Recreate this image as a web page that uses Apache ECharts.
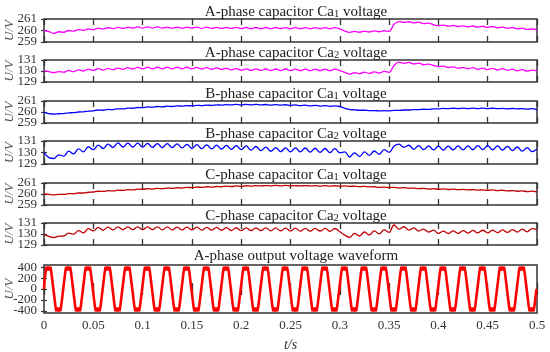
<!DOCTYPE html>
<html><head><meta charset="utf-8">
<script src="https://cdn.jsdelivr.net/npm/echarts@6/dist/echarts.min.js"></script>
<style>html,body{margin:0;padding:0;background:#fff}#c{width:550px;height:352px}</style>
</head><body><div id="c"></div>
<script>
// ---- data ----
const dtCap = 0.005;   // sample spacing of capacitor traces (s)
const dtOut = 0.001;   // sample spacing of output voltage trace (s)
const xTicks = [0,0.05,0.1,0.15,0.2,0.25,0.3,0.35,0.4,0.45,0.5];
const xTickLabels = ['0','0.05','0.1','0.15','0.2','0.25','0.3','0.35','0.4','0.45','0.5'];
const ticksCa1 = [259,260,261];
const ticksCa2 = [129,130,131];
const ticksOut = [-400,-200,0,200,400];
const titles = [
  'A-phase capacitor Ca{s|1} voltage',
  'A-phase capacitor Ca{s|2} voltage',
  'B-phase capacitor Ca{s|1} voltage',
  'B-phase capacitor Ca{s|2} voltage',
  'C-phase capacitor Ca{s|1} voltage',
  'C-phase capacitor Ca{s|2} voltage',
  'A-phase output voltage waveform'
];
const vaCa1 = [
260.00,259.91,259.75,259.89,259.85,260.00,259.94,260.08,260.01,260.14,
260.07,260.20,260.12,260.24,260.16,260.27,260.18,260.29,260.20,260.31,
260.21,260.31,260.21,260.31,260.21,260.30,260.20,260.30,260.20,260.30,
260.20,260.29,260.19,260.29,260.19,260.28,260.18,260.28,260.18,260.27,
260.17,260.26,260.16,260.26,260.16,260.26,260.16,260.26,260.16,260.25,
260.15,260.25,260.15,260.25,260.15,260.25,260.15,260.25,260.15,260.25,
260.15,259.95,259.84,259.92,259.85,259.94,259.87,259.96,259.89,259.98,
259.92,260.55,260.78,260.70,260.76,260.66,260.72,260.60,260.64,260.50,
260.42,260.47,260.38,260.44,260.35,260.41,260.32,260.39,260.30,260.37,
260.28,260.34,260.24,260.30,260.20,260.26,260.15,260.20,260.09,260.13,
260.05];
const vaCa2 = [
130.03,129.94,129.86,129.95,129.89,130.05,129.94,130.11,130.00,130.17,
130.05,130.21,130.08,130.24,130.12,130.27,130.15,130.30,130.18,130.33,
130.20,130.34,130.20,130.34,130.20,130.34,130.20,130.34,130.20,130.34,
130.20,130.33,130.18,130.30,130.16,130.28,130.14,130.25,130.11,130.22,
130.07,130.19,130.05,130.19,130.05,130.18,130.04,130.18,130.04,130.18,
130.04,130.17,130.03,130.17,130.03,130.17,130.03,130.17,130.03,130.17,
130.03,129.88,129.72,129.86,129.76,129.90,129.78,129.92,129.82,129.96,
129.88,130.50,130.80,130.70,130.78,130.64,130.72,130.57,130.62,130.50,
130.40,130.44,130.32,130.38,130.25,130.33,130.20,130.30,130.16,130.27,
130.13,130.24,130.10,130.21,130.06,130.17,130.02,130.12,129.98,130.08,
130.00];
const vbCa1 = [
259.97,259.86,259.81,259.84,259.86,259.92,259.94,260.00,260.02,260.08,
260.10,260.18,260.16,260.23,260.22,260.29,260.28,260.35,260.34,260.41,
260.40,260.46,260.44,260.50,260.47,260.53,260.50,260.56,260.53,260.58,
260.56,260.61,260.58,260.63,260.60,260.65,260.62,260.67,260.64,260.69,
260.65,260.69,260.65,260.69,260.64,260.68,260.63,260.67,260.62,260.66,
260.60,260.64,260.58,260.62,260.56,260.60,260.54,260.58,260.52,260.56,
260.50,260.34,260.22,260.20,260.16,260.16,260.12,260.13,260.10,260.12,
260.10,260.14,260.14,260.18,260.18,260.22,260.21,260.25,260.24,260.28,
260.28,260.33,260.30,260.34,260.31,260.35,260.31,260.35,260.31,260.35,
260.31,260.34,260.30,260.33,260.29,260.32,260.28,260.31,260.27,260.30,
260.20];
const vbCa2 = [
129.98,129.55,129.48,129.80,129.68,130.12,129.88,130.31,130.06,130.50,
130.25,130.64,130.35,130.73,130.44,130.83,130.48,130.82,130.47,130.81,
130.46,130.79,130.44,130.78,130.43,130.77,130.42,130.75,130.40,130.70,
130.35,130.68,130.33,130.66,130.31,130.64,130.29,130.62,130.27,130.60,
130.25,130.57,130.21,130.52,130.16,130.47,130.11,130.42,130.07,130.41,
130.06,130.40,130.05,130.39,130.03,130.37,130.01,130.35,129.99,130.33,
129.98,130.06,129.61,129.97,129.65,130.05,129.75,130.13,129.85,130.25,
130.01,130.55,130.72,130.45,130.63,130.28,130.60,130.25,130.57,130.22,
130.55,130.21,130.56,130.22,130.57,130.23,130.58,130.24,130.59,130.25,
130.59,130.23,130.57,130.21,130.53,130.17,130.48,130.12,130.43,130.08,
130.30];
const vcCa1 = [
260.00,259.97,259.92,259.96,259.96,260.03,260.02,260.09,260.09,260.16,
260.18,260.25,260.23,260.30,260.28,260.35,260.33,260.39,260.37,260.44,
260.43,260.48,260.45,260.51,260.48,260.54,260.51,260.57,260.54,260.60,
260.58,260.63,260.60,260.66,260.63,260.68,260.66,260.71,260.68,260.73,
260.70,260.75,260.72,260.76,260.73,260.77,260.74,260.78,260.74,260.78,
260.74,260.77,260.73,260.77,260.73,260.76,260.72,260.76,260.71,260.75,
260.71,260.74,260.69,260.72,260.67,260.69,260.64,260.66,260.61,260.63,
260.58,260.61,260.55,260.58,260.52,260.54,260.49,260.51,260.45,260.48,
260.43,260.46,260.41,260.44,260.39,260.42,260.37,260.40,260.35,260.38,
260.34,260.37,260.31,260.34,260.28,260.31,260.25,260.28,260.22,260.26,
260.18];
const vcCa2 = [
129.94,129.78,129.68,129.80,129.82,130.08,129.98,130.30,130.10,130.48,
130.28,130.60,130.34,130.63,130.37,130.65,130.39,130.65,130.39,130.65,
130.39,130.65,130.39,130.64,130.38,130.64,130.38,130.63,130.37,130.63,
130.37,130.62,130.36,130.61,130.35,130.60,130.34,130.58,130.32,130.57,
130.31,130.56,130.30,130.56,130.30,130.55,130.29,130.55,130.29,130.54,
130.28,130.53,130.27,130.52,130.26,130.52,130.26,130.51,130.25,130.50,
130.20,129.90,129.70,130.05,129.82,130.18,129.92,130.28,130.02,130.38,
130.15,130.82,130.45,130.66,130.35,130.55,130.27,130.45,130.18,130.35,
130.05,130.26,130.04,130.28,130.06,130.31,130.08,130.33,130.10,130.34,
130.11,130.36,130.12,130.38,130.14,130.40,130.17,130.44,130.20,130.48,
130.40];
const vaOut = [
0,150,300,410,340,410,340,410,300,150,0,-150,-300,-410,-340,-410,-340,-410,-300,-150,
0,150,300,410,340,410,340,410,300,150,0,-150,-300,-410,-340,-410,-340,-410,-300,-150,
0,150,300,410,340,410,340,410,300,150,0,-150,-300,-410,-340,-410,-340,-410,-300,-150,
0,150,300,410,340,410,340,410,300,150,0,-150,-300,-410,-340,-410,-340,-410,-300,-150,
0,150,300,410,340,410,340,410,300,150,0,-150,-300,-410,-340,-410,-340,-410,-300,-150,
0,150,300,410,340,410,340,410,300,150,0,-150,-300,-410,-340,-410,-340,-410,-300,-150,
0,150,300,410,340,410,340,410,300,150,0,-150,-300,-410,-340,-410,-340,-410,-300,-150,
0,150,300,410,340,410,340,410,300,150,0,-150,-300,-410,-340,-410,-340,-410,-300,-150,
0,150,300,410,340,410,340,410,300,150,0,-150,-300,-410,-340,-410,-340,-410,-300,-150,
0,150,300,410,340,410,340,410,300,150,0,-150,-300,-410,-340,-410,-340,-410,-300,-150,
0,150,300,410,340,410,340,410,300,150,0,-150,-300,-410,-340,-410,-340,-410,-300,-150,
0,150,300,410,340,410,340,410,300,150,0,-150,-300,-410,-340,-410,-340,-410,-300,-150,
0,150,300,410,340,410,340,410,300,150,0,-150,-300,-410,-340,-410,-340,-410,-300,-150,
0,150,300,410,340,410,340,410,300,150,0,-150,-300,-410,-340,-410,-340,-410,-300,-150,
0,150,300,410,340,410,340,410,300,150,0,-150,-300,-410,-340,-410,-340,-410,-300,-150,
0,150,300,410,340,410,340,410,300,150,0,-150,-300,-410,-340,-410,-340,-410,-300,-150,
0,150,300,410,340,410,340,410,300,150,0,-150,-300,-410,-340,-410,-340,-410,-300,-150,
0,150,300,410,340,410,340,410,300,150,0,-150,-300,-410,-340,-410,-340,-410,-300,-150,
0,150,300,410,340,410,340,410,300,150,0,-150,-300,-410,-340,-410,-340,-410,-300,-150,
0,150,300,410,340,410,340,410,300,150,0,-150,-300,-410,-340,-410,-340,-410,-300,-150,
0,150,300,410,340,410,340,410,300,150,0,-150,-300,-410,-340,-410,-340,-410,-300,-150,
0,150,300,410,340,410,340,410,300,150,0,-150,-300,-410,-340,-410,-340,-410,-300,-150,
0,150,300,410,340,410,340,410,300,150,0,-150,-300,-410,-340,-410,-340,-410,-300,-150,
0,150,300,410,340,410,340,410,300,150,0,-150,-300,-410,-340,-410,-340,-410,-300,-150,
0,150,300,410,340,410,340,410,300,150,0,-150,-300,-410,-340,-410,-340,-410,-300,-150,
0];

// ---- layout / style ----
const serif = '"Liberation Serif", "Times New Roman", serif';
const panelTop = [19, 60, 101, 141, 183, 223, 265];
const panelH   = [23, 22, 22, 23, 22, 22, 48];
const titleTop = [5, 46, 87, 127, 168, 209, 249];
const values = [vaCa1, vaCa2, vbCa1, vbCa2, vcCa1, vcCa2, vaOut];
const steps = [dtCap, dtCap, dtCap, dtCap, dtCap, dtCap, dtOut];
const yRange = [[259,261],[129,131],[259,261],[129,131],[259,261],[129,131],[-440,440]];
const yTicks = [ticksCa1, ticksCa2, ticksCa1, ticksCa2, ticksCa1, ticksCa2, ticksOut];
const colors = ['#ff00ff','#ff00ff','#0000ff','#0000ff','#c00000','#c00000','#ff0000'];
const frame = '#333';

const labelFont = {fontFamily:serif, fontSize:13, color:'#333', hideOverlap:false};
const grid = [], xAxis = [], yAxis = [], series = [], title = [];
for (let i = 0; i < 7; i++) {
  const last = i === 6;
  grid.push({left:44, right:13, top:panelTop[i], height:panelH[i], show:true,
    containLabel:false, outerBoundsMode:'none',
    borderColor:frame, borderWidth:1.5, backgroundColor:'#fff'});
  title.push({text:titles[i], left:296, top:titleTop[i], textAlign:'center', padding:0,
    textStyle:{fontFamily:serif, fontSize:15, fontWeight:'normal', color:'#222',
      rich:{s:{fontFamily:serif, fontSize:10.5, color:'#222', verticalAlign:'bottom', padding:[3,0,0,0]}}}});
  const xBase = {gridIndex:i, type:'value', min:0, max:0.5,
    axisLine:{show:false}, splitLine:{show:false}};
  xAxis.push(Object.assign({}, xBase, {position:'bottom',
    axisTick:{show:true, inside:true, length:6, customValues:xTicks, lineStyle:{color:frame, width:1.3}},
    axisLabel:Object.assign({show:last, customValues:xTicks, margin:6, showMinLabel:true, showMaxLabel:true,
      formatter:(v)=>xTickLabels[xTicks.findIndex(t=>Math.abs(t-v)<1e-9)] ?? String(v)}, labelFont),
    name:last?'t/s':'', nameLocation:'middle', nameGap:25,
    nameTextStyle:{fontFamily:serif, fontStyle:'italic', fontSize:14, color:'#333'}}));
  xAxis.push(Object.assign({}, xBase, {position:'top',
    axisTick:{show:true, inside:true, length:6, customValues:xTicks, lineStyle:{color:frame, width:1.3}},
    axisLabel:{show:false}}));
  const yBase = {gridIndex:i, type:'value', min:yRange[i][0], max:yRange[i][1],
    axisLine:{show:false}, splitLine:{show:false}};
  // split tick labels over two left axes so that none of them is dropped as overlapping
  const ticks = yTicks[i];
  const setA = ticks.filter((_, k) => k % 2 === 0);
  const setB = ticks.filter((_, k) => k % 2 === 1);
  yAxis.push(Object.assign({}, yBase, {position:'left',
    axisTick:{show:true, inside:true, length:3, customValues:ticks, lineStyle:{color:frame, width:1.2}},
    axisLabel:Object.assign({customValues:setA, margin:7, showMinLabel:true, showMaxLabel:true}, labelFont),
    name:'U/V', nameLocation:'middle', nameRotate:90, nameGap:28, nameMoveOverlap:false,
    nameTextStyle:{fontFamily:serif, fontStyle:'italic', fontSize:13, color:'#555'}}));
  yAxis.push(Object.assign({}, yBase, {position:'right',
    axisTick:{show:true, inside:true, length:3, customValues:ticks, lineStyle:{color:frame, width:1.2}},
    axisLabel:{show:false}}));
  yAxis.push(Object.assign({}, yBase, {position:'left', offset:0,
    axisTick:{show:false},
    axisLabel:Object.assign({customValues:setB, margin:7, showMinLabel:true, showMaxLabel:true}, labelFont)}));
  series.push({type:'line', xAxisIndex:2*i, yAxisIndex:3*i, showSymbol:false,
    smooth:last?false:0.4, step:last?'middle':false, clip:true,
    lineStyle:{color:colors[i], width:last?2.6:1.3},
    data:values[i].map((v,k)=>[+(k*steps[i]).toFixed(4), v])});
}

const chart = echarts.init(document.getElementById('c'));
chart.setOption({animation:false, backgroundColor:'#fff', title, grid, xAxis, yAxis, series});
</script>
</body></html>
